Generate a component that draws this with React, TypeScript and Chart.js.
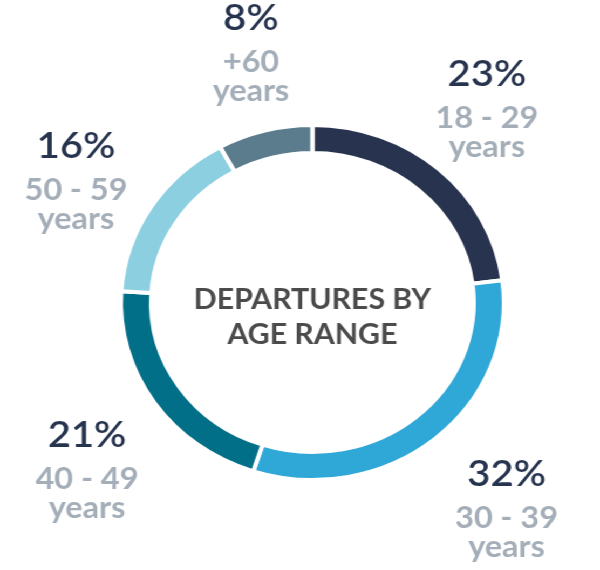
import React, { useEffect, useRef } from "react";
import { Chart, registerables } from "chart.js";

Chart.register(...registerables);

const ageRanges = ["18 - 29", "30 - 39", "40 - 49", "50 - 59", "+60"];
const shares = [23, 32, 21, 16, 8];
const sliceColors = ["#28344f", "#2fa8d8", "#026f88", "#8bcfe0", "#5b7c8c"];
const centerLines = ["DEPARTURES BY", "AGE RANGE"];
const unitLine = "years";

const labelPlugin = {
  id: "outerLabels",
  afterDatasetsDraw(chart: any, _args: any, opts: any) {
    const meta = chart.getDatasetMeta(0);
    const ctx = chart.ctx;
    let cxC = 0;
    let cyC = 0;
    meta.data.forEach((arc: any, i: number) => {
      const p = arc.getProps(["x", "y", "startAngle", "endAngle", "outerRadius"], true);
      cxC = p.x;
      cyC = p.y;
      const mid = (p.startAngle + p.endAngle) / 2 + ((opts.angleShift[i] || 0) * Math.PI) / 180;
      const r = p.outerRadius + opts.distance[i];
      const bx = p.x + Math.cos(mid) * r;
      const by = p.y + Math.sin(mid) * r;
      const y0 = by - 26;
      ctx.save();
      ctx.textAlign = "center";
      ctx.textBaseline = "alphabetic";
      ctx.fillStyle = opts.pctColor;
      ctx.font = opts.pctFont;
      ctx.fillText(shares[i] + "%", bx, y0);
      ctx.fillStyle = opts.rangeColor;
      ctx.font = opts.rangeFont;
      ctx.fillText(ageRanges[i], bx, y0 + 42);
      ctx.fillText(unitLine, bx, y0 + 71);
      ctx.restore();
    });
    ctx.save();
    ctx.textAlign = "center";
    ctx.textBaseline = "alphabetic";
    ctx.fillStyle = opts.centerColor;
    ctx.font = opts.centerFont;
    centerLines.forEach((line, k) => {
      ctx.fillText(line, cxC, cyC + 6 + k * 35);
    });
    ctx.restore();
  },
};

export default function App() {
  const ref = useRef<HTMLCanvasElement | null>(null);
  useEffect(() => {
    if (!ref.current) return;
    const chart = new Chart(ref.current, {
      type: "doughnut",
      data: {
        labels: ageRanges,
        datasets: [
          {
            data: shares,
            backgroundColor: sliceColors,
            borderColor: "#ffffff",
            borderWidth: 4,
            hoverOffset: 0,
          },
        ],
      },
      options: {
        animation: false,
        responsive: true,
        maintainAspectRatio: false,
        cutout: "84.2%",
        layout: { padding: { top: 123, bottom: 88, left: 110, right: 87 } },
        events: [],
        plugins: {
          legend: { display: false },
          tooltip: { enabled: false },
          outerLabels: {
            distance: [72, 99, 92, 71.5, 75.5],
            angleShift: [-1, -1, -5, -4, 1.4],
            pctColor: "#27344f",
            pctFont: "600 37px Lato",
            rangeColor: "#a4aeb8",
            rangeFont: "700 30px Lato",
            centerColor: "#4b4b4b",
            centerFont: "700 28px Lato",
          },
        } as any,
      },
      plugins: [labelPlugin],
    });
    return () => chart.destroy();
  }, []);
  return (
    <div
      style={{
        position: "absolute",
        left: 0,
        top: 0,
        width: 556,
        height: 570,
        transform: `scaleX(${600 / 556})`,
        transformOrigin: "0 0",
        background: "#ffffff",
      }}
    >
      <canvas ref={ref} />
    </div>
  );
}
